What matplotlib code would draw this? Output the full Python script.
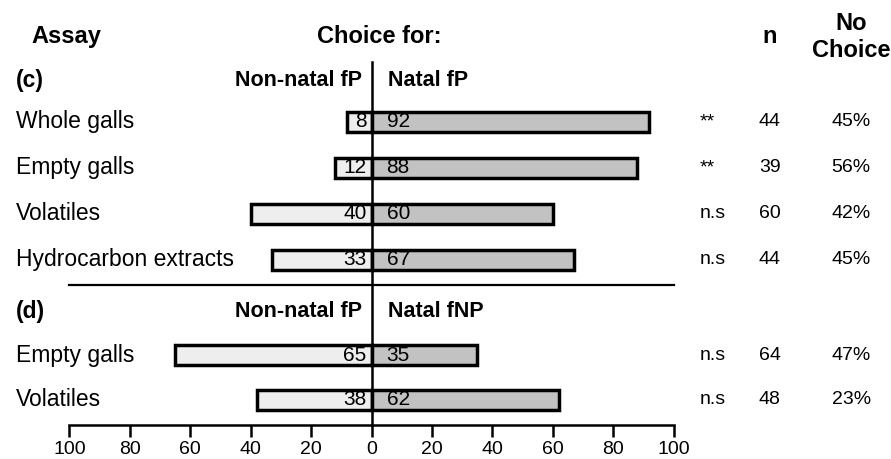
import matplotlib.pyplot as plt
import numpy as np

plt.rcParams['font.family'] = ['Liberation Sans', 'DejaVu Sans']

# (c) natal fP vs non-natal fP
assays_c = ['Whole galls', 'Empty galls', 'Volatiles', 'Hydrocarbon extracts']
non_natal_c = [8, 12, 40, 33]
natal_c = [92, 88, 60, 67]
sig_c = ['**', '**', 'n.s', 'n.s']
n_c = [44, 39, 60, 44]
no_choice_c = [45, 56, 42, 45]

# (d) natal fNP vs non-natal fP
assays_d = ['Empty galls', 'Volatiles']
non_natal_d = [65, 38]
natal_d = [35, 62]
sig_d = ['n.s', 'n.s']
n_d = [64, 48]
no_choice_d = [47, 23]

tick_vals = np.arange(-100, 101, 20)

fig = plt.figure(figsize=(8.91, 4.59), dpi=100)
ax = fig.add_axes([0, 0.074, 1, 0.926])
ax.set_xlim(-123.0, 172.0)
ax.set_ylim(6.59, -2.65)

rows_c = np.arange(len(assays_c))
rows_d = 5.07 + np.arange(len(assays_d)) * 0.97
bar_h = 0.43
edge_lw = 2.5

def draw_group(rows, labels, left_vals, right_vals, sig, n, nochoice):
    ax.barh(rows, -np.array(left_vals), height=bar_h, color='#eeeeee',
            edgecolor='black', linewidth=edge_lw, zorder=2)
    ax.barh(rows, right_vals, height=bar_h, color='#c2c2c2',
            edgecolor='black', linewidth=edge_lw, zorder=2)
    for y, lab, lv, rv, s, nn, nc in zip(rows, labels, left_vals, right_vals,
                                         sig, n, nochoice):
        ax.text(-117.6, y, lab, ha='left', va='center', fontsize=16.5)
        ax.text(-1.6, y, str(lv), ha='right', va='center', fontsize=15, zorder=4)
        ax.text(5.0, y, str(rv), ha='left', va='center', fontsize=15, zorder=4)
        ax.text(108.5, y, s, ha='left', va='center', fontsize=14)
        ax.text(131.8, y, str(nn), ha='center', va='center', fontsize=14)
        ax.text(158.8, y, f'{nc}%', ha='center', va='center', fontsize=14)

draw_group(rows_c, assays_c, non_natal_c, natal_c, sig_c, n_c, no_choice_c)
draw_group(rows_d, assays_d, non_natal_d, natal_d, sig_d, n_d, no_choice_d)

# column headers
ax.text(-112.7, -1.85, 'Assay', ha='left', va='center', fontsize=17, fontweight='bold')
ax.text(2.6, -1.85, 'Choice for:', ha='center', va='center', fontsize=17, fontweight='bold')
ax.text(131.8, -1.85, 'n', ha='center', va='center', fontsize=17, fontweight='bold')
ax.text(158.8, -1.85, 'No\nChoice', ha='center', va='center', fontsize=17,
        fontweight='bold', linespacing=1.25)

# panel headers
for y, tag, right_name in [(-0.91, '(c)', 'Natal fP'), (4.13, '(d)', 'Natal fNP')]:
    ax.text(-117.6, y, tag, ha='left', va='center', fontsize=16.5, fontweight='bold')
    ax.text(-3.0, y, 'Non-natal fP', ha='right', va='center', fontsize=15.5, fontweight='bold')
    ax.text(5.6, y, right_name, ha='left', va='center', fontsize=15.5, fontweight='bold')

# zero line and separator between panels
ax.plot([0, 0], [-1.30, 6.59], color='black', lw=1.8, zorder=3, clip_on=False)
ax.plot([-100, 100], [3.54, 3.54], color='black', lw=1.6)

for side in ['top', 'left', 'right']:
    ax.spines[side].set_visible(False)
ax.spines['bottom'].set_bounds(-100, 100)
ax.spines['bottom'].set_linewidth(1.8)
ax.set_xticks(tick_vals)
ax.set_xticklabels([str(abs(v)) for v in tick_vals])
ax.tick_params(axis='x', direction='out', length=8.5, width=1.8, labelsize=14, pad=3)
ax.set_yticks([])

fig.savefig('out.png', dpi=100)
